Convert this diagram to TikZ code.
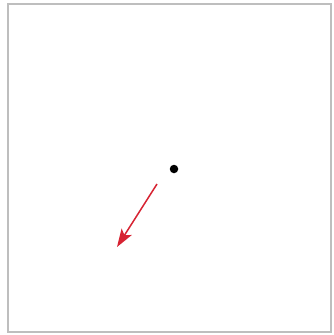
\documentclass[tikz,border=0pt]{standalone}
\usetikzlibrary{arrows.meta}
\definecolor{arrowred}{RGB}{215,35,50}
\definecolor{framegray}{RGB}{190,190,190}
\begin{document}
\begin{tikzpicture}[x=1pt,y=-1pt,
  frame/.style={draw=framegray,line width=2pt},
  dotnode/.style={circle,fill=black,inner sep=0pt,minimum size=8.5pt},
  vec/.style={draw=arrowred,line width=1.5pt,-{Stealth[length=18pt,width=12pt,inset=4pt]}}]
\useasboundingbox (0,0) rectangle (334,335);
\fill[white] (0,0) rectangle (334,335);
\draw[frame] (8,4) rectangle (331,332);
\node[dotnode] (p) at (174,169) {};
\coordinate (s) at (157,184);
\coordinate (t) at (117,247);
\draw[vec] (s) -- (t);
\end{tikzpicture}
\end{document}
